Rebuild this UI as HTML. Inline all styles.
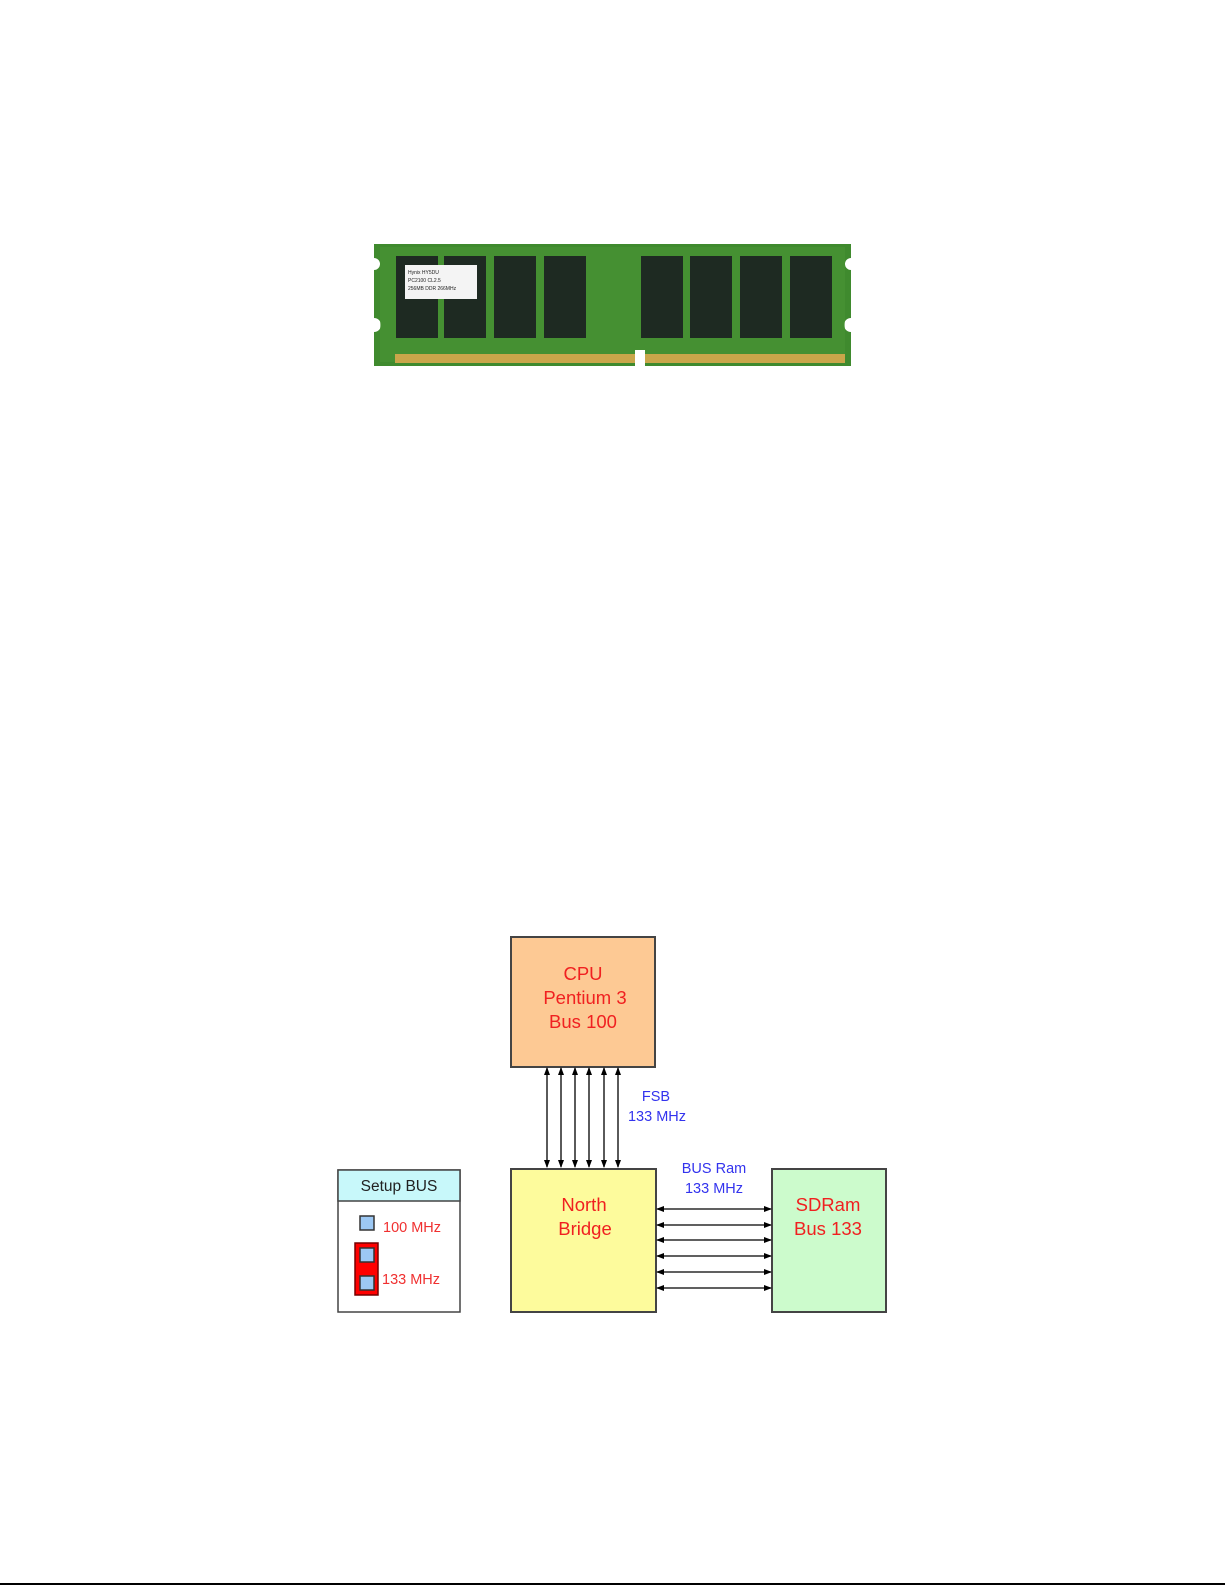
<!DOCTYPE html>
<html><head><meta charset="utf-8"><style>
body{margin:0;background:#fff;width:1225px;height:1585px;overflow:hidden;position:relative;font-family:"Liberation Sans",sans-serif}
</style></head><body>
<svg width="1225" height="1585" xmlns="http://www.w3.org/2000/svg" style="position:absolute;left:0;top:0">
<defs>
<marker id="ah" markerWidth="8" markerHeight="8" refX="7" refY="4" orient="auto-start-reverse" markerUnits="userSpaceOnUse"><path d="M0,1 L8,4 L0,7 Z" fill="#000"/></marker>
</defs>
<g>
<path d="M374,244 H851 V258 a5,5 0 0 0 0,12 V318 a6,6 0 0 0 0,14 V366 H374 V332 a6,6 0 0 0 0,-14 V270 a5,5 0 0 0 0,-12 Z" fill="#3f8a2e"/>
<rect x="380" y="247" width="465" height="115" fill="#4a9436" opacity="0.6"/>
<g fill="#1e2a22">
<rect x="396" y="256" width="42" height="82"/><rect x="444" y="256" width="42" height="82"/>
<rect x="494" y="256" width="42" height="82"/><rect x="544" y="256" width="42" height="82"/>
<rect x="641" y="256" width="42" height="82"/><rect x="690" y="256" width="42" height="82"/>
<rect x="740" y="256" width="42" height="82"/><rect x="790" y="256" width="42" height="82"/>
</g>
<rect x="405" y="265" width="72" height="34" fill="#f4f4f4"/>
<text x="408" y="274" font-size="5" fill="#222">Hynix HY5DU</text>
<text x="408" y="282" font-size="5" fill="#222">PC2100 CL2.5</text>
<text x="408" y="290" font-size="5" fill="#222">256MB DDR 266MHz</text>
<rect x="395" y="354" width="240" height="9" fill="#c9a64a"/>
<rect x="645" y="354" width="200" height="9" fill="#c9a64a"/>
<rect x="635" y="350" width="10" height="17" fill="#fff"/>
</g>
<rect x="511" y="937" width="144" height="130" fill="#fdc994" stroke="#444" stroke-width="2"/>
<g font-size="18.5" fill="#f02020" text-anchor="middle">
<text x="583" y="980">CPU</text><text x="585" y="1004">Pentium 3</text><text x="583" y="1028">Bus 100</text>
</g>
<g stroke="#000" stroke-width="1.3" marker-start="url(#ah)" marker-end="url(#ah)">
<line x1="547" y1="1068" x2="547" y2="1167"/><line x1="561" y1="1068" x2="561" y2="1167"/>
<line x1="575" y1="1068" x2="575" y2="1167"/><line x1="589" y1="1068" x2="589" y2="1167"/>
<line x1="604" y1="1068" x2="604" y2="1167"/><line x1="618" y1="1068" x2="618" y2="1167"/>
</g>
<g font-size="14.5" fill="#3333ee" text-anchor="middle">
<text x="656" y="1101">FSB</text><text x="657" y="1121">133 MHz</text>
<text x="714" y="1173">BUS Ram</text><text x="714" y="1193">133 MHz</text>
</g>
<rect x="511" y="1169" width="145" height="143" fill="#fdfb9c" stroke="#444" stroke-width="2"/>
<rect x="772" y="1169" width="114" height="143" fill="#ccfbcc" stroke="#444" stroke-width="2"/>
<g font-size="18.5" fill="#f02020" text-anchor="middle">
<text x="584" y="1211">North</text><text x="585" y="1235">Bridge</text>
<text x="828" y="1211">SDRam</text><text x="828" y="1235">Bus 133</text>
</g>
<g stroke="#000" stroke-width="1.3" marker-start="url(#ah)" marker-end="url(#ah)">
<line x1="657" y1="1209" x2="771" y2="1209"/><line x1="657" y1="1225" x2="771" y2="1225"/>
<line x1="657" y1="1240" x2="771" y2="1240"/><line x1="657" y1="1256" x2="771" y2="1256"/>
<line x1="657" y1="1272" x2="771" y2="1272"/><line x1="657" y1="1288" x2="771" y2="1288"/>
</g>
<rect x="338" y="1170" width="122" height="142" fill="#fff" stroke="#444" stroke-width="1.5"/>
<rect x="338" y="1170" width="122" height="31" fill="#c8f8fa" stroke="#444" stroke-width="1.5"/>
<text x="399" y="1191" font-size="15.5" fill="#222" text-anchor="middle">Setup BUS</text>
<rect x="360" y="1216" width="14" height="14" fill="#9cc8f4" stroke="#333" stroke-width="1.5"/>
<rect x="355" y="1243" width="23" height="52" fill="#f00" stroke="#700" stroke-width="1.5"/>
<rect x="360" y="1248" width="14" height="14" fill="#9cc8f4" stroke="#333" stroke-width="1.5"/>
<rect x="360" y="1276" width="14" height="14" fill="#9cc8f4" stroke="#333" stroke-width="1.5"/>
<g font-size="14.5" fill="#f03030">
<text x="383" y="1232">100 MHz</text><text x="382" y="1284">133 MHz</text>
</g>
<line x1="0" y1="1584" x2="1225" y2="1584" stroke="#000" stroke-width="2"/>
</svg>
</body></html>
